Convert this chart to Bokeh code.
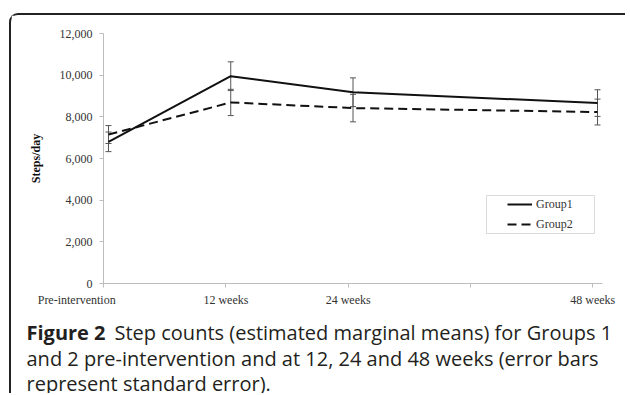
from bokeh.plotting import figure
from bokeh.layouts import column
from bokeh.models import (Range1d, FixedTicker, Label, Legend, LegendItem, BoxAnnotation,
                          Whisker, TeeHead, ColumnDataSource, NumeralTickFormatter)
from bokeh.embed import file_html
from bokeh.resources import INLINE

# ---- data ----
weeks = [0, 12, 24, 48]
week_labels = ["Pre-intervention", "12 weeks", "24 weeks", "48 weeks"]
group1_mean = [6800, 9950, 9180, 8660]
group1_se = [470, 690, 690, 640]
group2_mean = [7150, 8690, 8420, 8230]
group2_se = [430, 630, 660, 620]
y_ticks = [0, 2000, 4000, 6000, 8000, 10000, 12000]
x_ticks = [0, 12, 24, 36, 48]
series_names = ["Group1", "Group2"]
caption_bold = "Figure 2"
caption_lines = [
    "Step counts (estimated marginal means) for Groups 1",
    "and 2 pre-intervention and at 12, 24 and 48 weeks (error bars",
    "represent standard error).",
]

SERIF = "Liberation Serif"
SANS = "Open Sans"
TICK_SHIFT = 0.47
W = 614

p = figure(width=W, height=294, output_backend="svg", toolbar_location=None,
           x_range=Range1d(-0.49, 48.49), y_range=Range1d(0, 12000),
           min_border_left=92, min_border_right=W - 591, min_border_top=18, min_border_bottom=11)
p.outline_line_color = None
p.grid.grid_line_color = None
p.frame_align = False

# axes
p.yaxis.ticker = FixedTicker(ticks=y_ticks)
p.yaxis.formatter = NumeralTickFormatter(format="0,0")
tick_pos = [t - TICK_SHIFT for t in x_ticks]
p.xaxis.ticker = FixedTicker(ticks=tick_pos)
pad = {0: "\u00a0" * 18}
overrides = {}
for t, tp in zip(x_ticks, tick_pos):
    if t in weeks:
        i = weeks.index(t)
        overrides[tp] = week_labels[i] + pad.get(t, "")
    else:
        overrides[tp] = ""
p.xaxis.major_label_overrides = overrides
for ax in (p.xaxis[0], p.yaxis[0]):
    ax.axis_line_color = "#bdbdbd"
    ax.major_tick_line_color = "#bdbdbd"
    ax.minor_tick_line_color = None
    ax.major_tick_out = 4
    ax.major_tick_in = 0
    ax.major_label_text_font = SERIF
    ax.major_label_text_font_size = "12px"
    ax.major_label_text_color = "#333333"
p.yaxis.major_label_standoff = 7
p.xaxis.major_label_standoff = 5
p.yaxis.axis_label = "Steps/day"
p.yaxis.axis_label_text_font = SERIF
p.yaxis.axis_label_text_font_style = "bold"
p.yaxis.axis_label_text_font_size = "12px"
p.yaxis.axis_label_text_color = "#111111"
p.yaxis.axis_label_standoff = 14

# error bars
for mean, se in ((group1_mean, group1_se), (group2_mean, group2_se)):
    src = ColumnDataSource(dict(x=weeks, upper=[m + s for m, s in zip(mean, se)],
                                lower=[m - s for m, s in zip(mean, se)]))
    p.add_layout(Whisker(source=src, base="x", upper="upper", lower="lower",
                         line_color="#555555", line_width=1,
                         upper_head=TeeHead(size=6, line_color="#555555", line_width=1),
                         lower_head=TeeHead(size=6, line_color="#555555", line_width=1)))

r1 = p.line(weeks, group1_mean, line_color="#111111", line_width=2)
r2 = p.line(weeks, group2_mean, line_color="#111111", line_width=2, line_dash="9 5")

legend = Legend(items=[LegendItem(label=series_names[0], renderers=[r1]),
                       LegendItem(label=series_names[1], renderers=[r2])],
                location=(404, 51), padding=0, spacing=4, glyph_width=25, glyph_height=16,
                label_height=16, label_standoff=4, label_text_font=SERIF,
                label_text_font_size="12px", label_text_color="#333333",
                border_line_alpha=0, background_fill_alpha=0)
p.add_layout(legend, "center")

# legend box (frame-relative screen units)
p.add_layout(BoxAnnotation(left=383, right=491, bottom=50, top=88,
                           left_units="screen", right_units="screen",
                           top_units="screen", bottom_units="screen",
                           fill_alpha=0, line_color="#888888", line_width=1))

# caption figure
CH = 84
cap = figure(width=W, height=CH, output_backend="svg", toolbar_location=None,
             x_range=Range1d(0, W), y_range=Range1d(0, CH),
             x_axis_location=None, y_axis_location=None,
             min_border=0, min_border_left=0, min_border_right=0,
             min_border_top=0, min_border_bottom=0)
cap.outline_line_color = None
cap.grid.grid_line_color = None
cap.frame_align = False
cap.add_layout(Label(x=15, y=23, x_units="canvas", y_units="canvas", text=caption_bold,
                     text_font=SANS, text_font_style="bold", text_font_size="20px",
                     text_color="#231f20", text_baseline="alphabetic"))
for t, xx, yy in zip(caption_lines, [103, 15, 15], [23, 48.5, 74]):
    cap.add_layout(Label(x=xx, y=yy, x_units="canvas", y_units="canvas", text=t,
                         text_font=SANS, text_font_size="20px",
                         text_color="#231f20", text_baseline="alphabetic"))

layout = column(p, cap, spacing=0,
                styles={"margin-left": "9px", "margin-top": "13px",
                        "border-left": "2px solid #222222", "border-top": "2px solid #222222",
                        "border-top-left-radius": "9px"})

open("out.html", "w").write(file_html(layout, INLINE))
